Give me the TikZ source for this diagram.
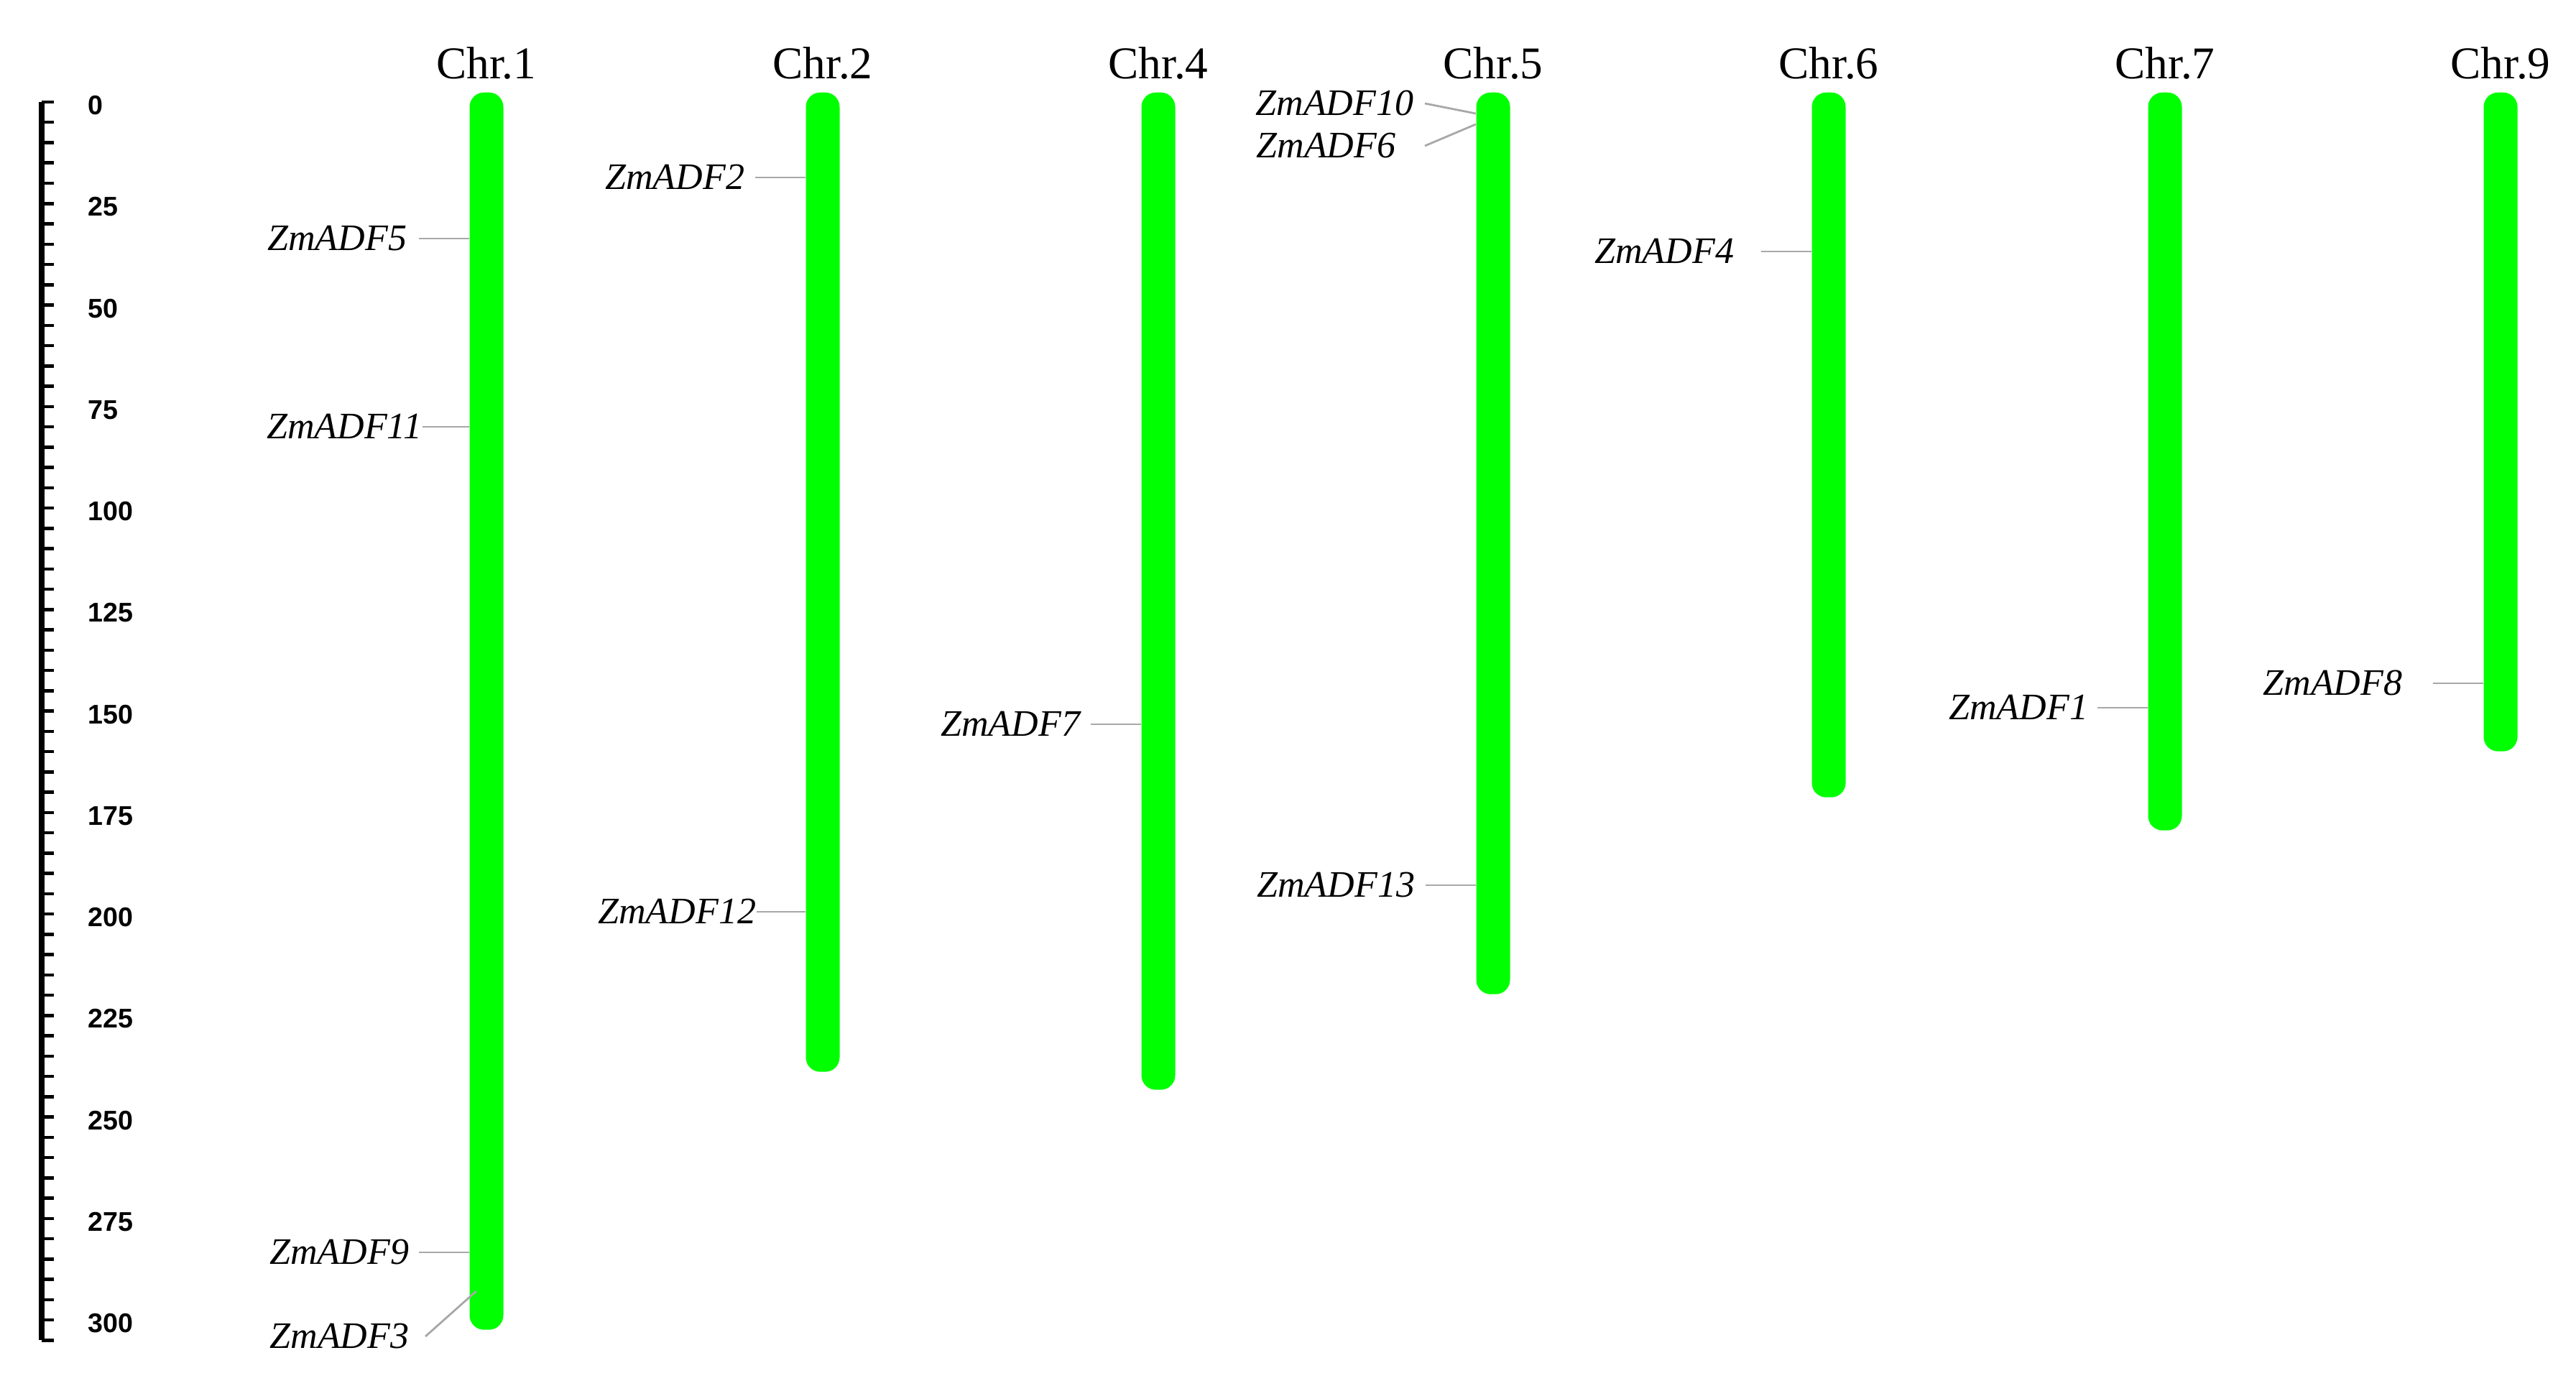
\documentclass[tikz,border=0pt]{standalone}
\usepackage{fontspec}
\setmainfont{Liberation Serif}
\newfontfamily\rulerfont{Liberation Sans}
\usetikzlibrary{positioning}
\definecolor{chrgreen}{RGB}{0,255,0}
\definecolor{linkgray}{RGB}{168,168,168}
\tikzset{
  chrom/.style={fill=chrgreen, draw=none, rounded corners=0.2cm, minimum width=0.47cm, inner sep=0pt, anchor=north},
  chrname/.style={font=\fontsize{18}{18}\selectfont, anchor=base, inner sep=0pt},
  gene/.style={font=\fontsize{14.8}{15}\selectfont\itshape, anchor=east, inner ysep=0pt, text height=0.33cm, text depth=0pt},
  link/.style={draw=linkgray, line width=0.028cm},
  tick/.style={line width=0.045cm},
  ticklabel/.style={font=\rulerfont\bfseries\fontsize{10.7}{11}\selectfont, anchor=west, inner sep=0pt, text height=0.27cm, text depth=0pt}
}
\begin{document}
\begin{tikzpicture}[line join=round]
            \def\ytop{1.42} \def\unit{0.0565}
            \useasboundingbox (0,0) rectangle (35.85,-19.29);
            \draw[line width=0.08cm] (0.58,-\ytop)--(0.58,{-\ytop-\unit*305});
            \foreach \v in {0,5,...,305}
              \draw[tick] (0.58,{-\ytop-\unit*\v})--++(0.17,0);
            \foreach \v in {0,25,...,300}
              \node[ticklabel] (r\v) at (1.22,{-\ytop-0.04-\unit*\v}) {\v};
            \foreach \c/\x/\len in {1/6.77/17.22, 2/11.45/13.63, 4/16.12/13.88, 5/20.78/12.55, 6/25.45/9.81, 7/30.13/10.27, 9/34.80/9.17}{
              \node[chrom, minimum height=\len cm] (chr\c) at (\x,-1.28) {};
              \node[chrname] (t\c) at ([yshift=0.18cm]chr\c.north) {Chr.\c};
            }
            \foreach \g/\c/\y/\s/\l in {5/1/3.32/0.16/0.70, 11/1/5.94/0/0.65, 9/1/17.43/0.13/0.70, 2/2/2.47/0.14/0.70, 12/2/12.69/0/0.68, 7/4/10.08/0.14/0.70, 13/5/12.32/0.14/0.70, 4/6/3.50/0.37/0.70, 1/7/9.85/0.12/0.70, 8/9/9.51/0.42/0.70}{
              \coordinate (e\g) at (chr\c.west |- 0,-\y);
              \node[gene, inner xsep=\s cm] (g\g) at ([xshift=-\l cm]e\g) {ZmADF\g};
              \draw[link] (g\g.east)--(e\g);
            }
            \coordinate (e10) at (chr5.west |- 0,-1.58);
            \coordinate (e6) at (chr5.west |- 0,-1.73);
            \coordinate (e3) at ([xshift=0.1cm]chr1.west |- 0,-17.97);
            \node[gene, inner xsep=0.15cm] (g10) at (19.83,-1.44) {ZmADF10};
            \node[gene, inner xsep=0.40cm] (g6) at (19.83,-2.03) {ZmADF6};
            \node[gene, inner xsep=0.22cm] (g3) at (5.92,-18.60) {ZmADF3};
            \draw[link] (g10.east)--(e10);
            \draw[link] (g6.east)--(e6);
            \draw[link] (g3.east)--(e3);
        \end{tikzpicture}
\end{document}
